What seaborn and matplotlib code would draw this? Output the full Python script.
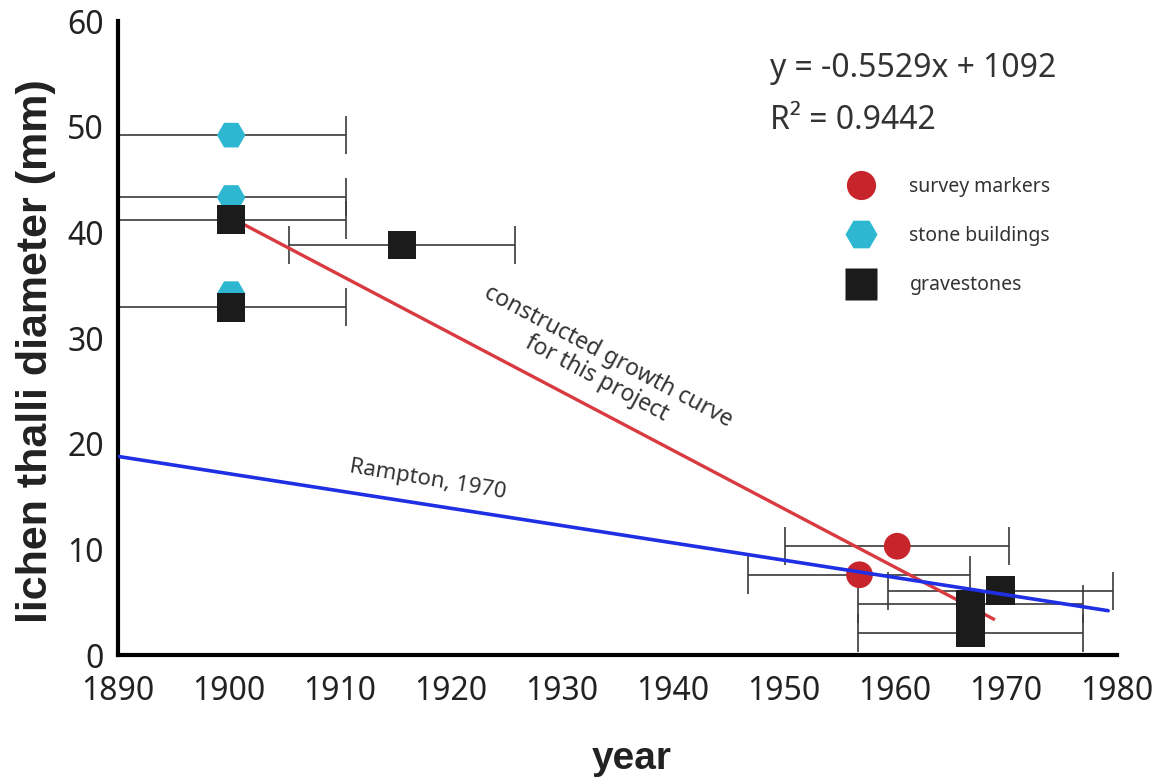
import numpy as np
import pandas as pd
import matplotlib
matplotlib.use("Agg")
import matplotlib.pyplot as plt
from matplotlib.lines import Line2D
import seaborn as sns

# ---- data ----
marker_year = [1960.2, 1956.8]
marker_diam = [10.3, 7.6]
marker_err = [10.1, 10.0]

building_year = [1900.2, 1900.2, 1900.2]
building_diam = [49.2, 43.3, 34.2]
building_err = [10.3, 10.3, np.nan]

grave_year = [1900.2, 1900.2, 1915.6, 1966.8, 1966.8, 1969.5]
grave_diam = [41.2, 32.9, 38.8, 4.8, 2.1, 6.1]
grave_err = [10.3, 10.3, 10.2, 10.1, 10.1, 10.15]

# fitted growth curve y = slope * x + intercept
fit_slope = -0.5529
fit_intercept = 1092
fit_range = [1900.2, 1969.0]

# Rampton (1970) curve end points
rampton_year = [1890, 1979.2]
rampton_diam = [18.8, 4.2]

x_ticks = [1890, 1900, 1910, 1920, 1930, 1940, 1950, 1960, 1970, 1980]
y_ticks = [0, 10, 20, 30, 40, 50, 60]

RED = "#c8242c"
CYAN = "#2db7d0"
BLACK = "#1b1b1b"
LINE_RED = "#d83a40"
LINE_BLUE = "#1f2fe3"
ERR = "#3a3a3a"
TEXT = "#333333"

sns.set_style("white")
plt.rcParams["font.family"] = ["Noto Sans", "DejaVu Sans"]
BOLD_FAMILY = ["Liberation Sans", "DejaVu Sans"]

fig = plt.figure(figsize=(11.62, 7.78), dpi=100)
ax = fig.add_axes([0.1015, 0.158, 0.8598, 0.815])

# horizontal error bars
def draw_err(xs, ys, errs):
    for x, y, e in zip(xs, ys, errs):
        if np.isnan(e):
            continue
        ax.errorbar(x, y, xerr=e, fmt="none", ecolor=ERR, elinewidth=1.2,
                    capsize=14, capthick=1.2, zorder=2, clip_on=False)

draw_err(building_year, building_diam, building_err)
draw_err(grave_year, grave_diam, grave_err)
draw_err(marker_year, marker_diam, marker_err)

# growth curve for this project
fx = np.array(fit_range)
ax.plot(fx, fit_slope * fx + fit_intercept, color=LINE_RED, lw=2.4,
        zorder=2.5, solid_capstyle="butt")

df_b = pd.DataFrame({"year": building_year, "diam": building_diam})
df_g = pd.DataFrame({"year": grave_year, "diam": grave_diam})
df_m = pd.DataFrame({"year": marker_year, "diam": marker_diam})

sns.scatterplot(data=df_b, x="year", y="diam", ax=ax, marker="H", s=420,
                color=CYAN, edgecolor="none", zorder=3, legend=False)
sns.scatterplot(data=df_g, x="year", y="diam", ax=ax, marker="s", s=420,
                color=BLACK, edgecolor="none", zorder=4, legend=False)
sns.scatterplot(data=df_m, x="year", y="diam", ax=ax, marker="o", s=370,
                color=RED, edgecolor="none", zorder=4, legend=False)

# Rampton curve
sns.lineplot(x=rampton_year, y=rampton_diam, ax=ax, color=LINE_BLUE, lw=2.6,
             zorder=5)

ax.set_xlim(1890, 1980)
ax.set_ylim(0, 60)
ax.set_xticks(x_ticks)
ax.set_yticks(y_ticks)
ax.set_xticklabels([str(t) for t in x_ticks])
ax.set_yticklabels([str(t) for t in y_ticks])
ax.tick_params(axis="both", direction="out", length=7, width=2.4,
               labelsize=23, colors="black", labelcolor="#222222")
ax.tick_params(axis="x", pad=7)
ax.tick_params(axis="y", pad=3)
for side in ["top", "right"]:
    ax.spines[side].set_visible(False)
for side in ["left", "bottom"]:
    ax.spines[side].set_linewidth(3)
    ax.spines[side].set_color("black")

ax.set_xlabel("year", fontsize=28, fontweight="bold", family=BOLD_FAMILY,
              labelpad=24, color="#222222")
ax.set_ylabel("lichen thalli diameter (mm)", fontsize=31, fontweight="bold",
              family=BOLD_FAMILY, labelpad=8, color="#222222")
ax.xaxis.label.set_x(0.5145)
ax.yaxis.label.set_y(0.48)

# equation of the fit
ax.text(1948.7, 55.5, f"y = {fit_slope}x + {fit_intercept}", fontsize=23,
        color=TEXT, ha="left", va="center")
ax.text(1948.7, 50.6, "R² = 0.9442", fontsize=23, color=TEXT,
        ha="left", va="center")

# curve annotations
ax.text(1933.6, 27.2, "constructed growth curve\nfor this project",
        fontsize=16.5, color=TEXT, ha="center", va="center", rotation=-28,
        rotation_mode="anchor", linespacing=1.05)
ax.text(1917.9, 16.6, "Rampton, 1970", fontsize=16, color=TEXT,
        ha="center", va="center", rotation=-9.5, rotation_mode="anchor")

handles = [
    Line2D([], [], ls="none", marker="o", markersize=21, color=RED, mec="none"),
    Line2D([], [], ls="none", marker="H", markersize=23, color=CYAN, mec="none"),
    Line2D([], [], ls="none", marker="s", markersize=23, color=BLACK, mec="none"),
]
ax.legend(handles, ["survey markers", "stone buildings", "gravestones"],
          loc="upper left", bbox_to_anchor=(0.711, 0.7815), frameon=False,
          fontsize=14, handlelength=1.6, handletextpad=1.67,
          labelspacing=1.5, labelcolor=TEXT)

fig.savefig("out.png", dpi=100)
